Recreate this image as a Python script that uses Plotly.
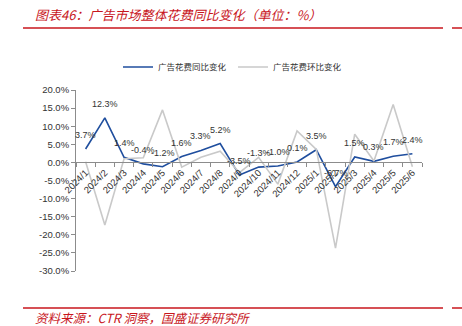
import plotly.graph_objects as go

# Monthly ad-spend change, 2024/1 - 2025/6
months = ["2024/1", "2024/2", "2024/3", "2024/4", "2024/5", "2024/6",
          "2024/7", "2024/8", "2024/9", "2024/10", "2024/11", "2024/12",
          "2025/1", "2025/2", "2025/3", "2025/4", "2025/5", "2025/6"]
yoy = [3.7, 12.3, 1.4, -0.4, -1.2, 1.6, 3.3, 5.2, -3.5, -1.3, -1.0, 0.1,
       3.5, -6.7, 1.5, 0.3, 1.7, 2.4]
mom = [0.2, -17.3, 1.0, 1.3, 14.5, -1.3, 1.4, 3.1, -2.8, 1.4, -6.0, 8.7,
       3.6, -23.7, 7.8, 0.4, 16.0, -1.2]
y_ticks = [20, 15, 10, 5, 0, -5, -10, -15, -20, -25, -30]
y_tick_text = [f"{v:.1f}%" for v in y_ticks]

name_yoy = "广告花费同比变化"
name_mom = "广告花费环比变化"
title_text = "图表46：广告市场整体花费同比变化（单位：%）"
source_text = "资料来源：CTR 洞察，国盛证券研究所"

W, H = 462, 326
ML, MR, MT, MB = 76, 40, 90, 55
PW, PH = W - ML - MR, H - MT - MB

RED = "#C8161D"
BLUE = "#1F4E9E"
GRAY = "#C9C9C9"
AXIS = "#8C8C8C"
TXT = "#333333"
NUM_FONT = "Liberation Sans, Arial, sans-serif"
CJK_FONT = "Noto Sans CJK SC, sans-serif"


def px(x):
    return (x - ML) / PW


def py(y):
    return (H - MB - y) / PH


fig = go.Figure()
fig.add_trace(go.Scatter(x=months, y=yoy, mode="lines", name=name_yoy,
                         line=dict(color=BLUE, width=1.6)))
fig.add_trace(go.Scatter(x=months, y=mom, mode="lines", name=name_mom,
                         line=dict(color=GRAY, width=1.6)))

annotations = []
for m, v in zip(months, yoy):
    annotations.append(dict(x=m, y=v, xref="x", yref="y", text=f"{v:.1f}%",
                            showarrow=False, yshift=14,
                            font=dict(family=NUM_FONT, size=9, color=TXT)))

annotations.append(dict(x=px(33), y=py(14), xref="paper", yref="paper",
                        xanchor="left", yanchor="middle", showarrow=False,
                        text=f"<i>{title_text}</i>",
                        font=dict(family=CJK_FONT, size=13, color=RED)))
annotations.append(dict(x=px(33), y=py(317), xref="paper", yref="paper",
                        xanchor="left", yanchor="middle", showarrow=False,
                        text=f"<i>{source_text}</i>",
                        font=dict(family=CJK_FONT, size=12.5, color=RED)))

shapes = []
for yy in (28, 308):
    shapes.append(dict(type="line", xref="paper", yref="paper",
                       x0=px(23), x1=px(443), y0=py(yy), y1=py(yy),
                       line=dict(color=RED, width=1.5)))
    shapes.append(dict(type="line", xref="paper", yref="paper",
                       x0=px(452), x1=px(462), y0=py(yy), y1=py(yy),
                       line=dict(color=RED, width=1.5)))

fig.update_layout(
    width=W, height=H,
    margin=dict(l=ML, r=MR, t=MT, b=MB, pad=0),
    paper_bgcolor="white", plot_bgcolor="white",
    showlegend=True,
    legend=dict(orientation="h", x=px(118), y=py(67), xanchor="left",
                yanchor="middle", bgcolor="rgba(0,0,0,0)",
                entrywidth=70, entrywidthmode="pixels",
                font=dict(family=CJK_FONT, size=8.5, color=TXT)),
    xaxis=dict(type="category", categoryorder="array", categoryarray=months,
               range=[-0.5, len(months) - 0.5],
               anchor="free", position=0.6,
               showline=True, linecolor=AXIS, linewidth=1,
               ticks="outside", tickson="boundaries", ticklen=4,
               tickcolor=AXIS, tickangle=-45, showgrid=False, zeroline=False,
               tickfont=dict(family=NUM_FONT, size=9.5, color=TXT)),
    yaxis=dict(range=[-30, 20], tickvals=y_ticks, ticktext=y_tick_text,
               showline=True, linecolor=AXIS, linewidth=1,
               ticks="outside", ticklen=4, tickcolor=AXIS,
               showgrid=False, zeroline=False,
               tickfont=dict(family=NUM_FONT, size=9.5, color=TXT)),
    annotations=annotations,
    shapes=shapes,
)

fig.write_html("out.html")
